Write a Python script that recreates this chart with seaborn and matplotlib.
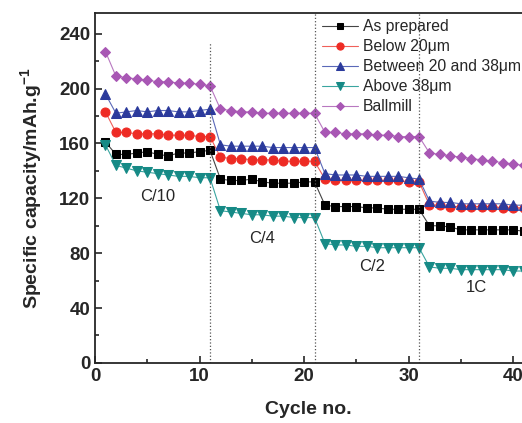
import matplotlib
matplotlib.use('Agg')
import matplotlib.pyplot as plt
from matplotlib.ticker import MultipleLocator
import seaborn as sns
import pandas as pd

sns.set_style('ticks')
plt.rcParams['font.family'] = ['Liberation Sans', 'DejaVu Sans']
plt.rcParams['mathtext.fontset'] = 'custom'
plt.rcParams['mathtext.rm'] = 'Liberation Sans'
plt.rcParams['mathtext.bf'] = 'Liberation Sans:bold'

# Номер цикла
cycles = list(range(1, 42))

# Удельная ёмкость, мА·ч/г
as_prepared = [161, 152, 152, 153, 154, 152, 151, 153, 153, 154, 155,
               134, 133, 133, 134, 132, 131, 131, 131, 132, 132,
               115, 114, 114, 114, 113, 113, 112, 112, 112, 112,
               100, 100, 99, 97, 97, 97, 97, 97, 97, 96]
below_20 = [183, 168, 168, 167, 167, 167, 166, 166, 166, 165, 165,
            150, 149, 149, 148, 148, 148, 147, 147, 147, 147,
            134, 133, 133, 133, 133, 133, 133, 133, 132, 132,
            115, 115, 114, 114, 114, 114, 114, 113, 113, 113]
between = [196, 182, 183, 184, 183, 184, 184, 183, 183, 184, 185,
           159, 158, 158, 158, 158, 157, 157, 157, 157, 157,
           138, 137, 137, 137, 136, 136, 136, 136, 135, 134,
           118, 117, 117, 116, 116, 116, 116, 116, 115, 115]
above_38 = [159, 144, 142, 140, 139, 138, 137, 136, 136, 135, 135,
            111, 110, 109, 108, 108, 107, 107, 106, 106, 106,
            87, 86, 86, 85, 85, 84, 84, 84, 84, 84,
            70, 69, 69, 68, 68, 68, 68, 68, 67, 67]
ballmill = [227, 209, 208, 207, 206, 205, 205, 204, 204, 203, 202,
            185, 184, 183, 183, 182, 182, 182, 182, 182, 182,
            168, 168, 167, 167, 167, 166, 166, 165, 165, 165,
            153, 152, 151, 150, 149, 148, 147, 146, 145, 144]

labels = ['As prepared', 'Below 20\u03bcm', 'Between 20 and 38\u03bcm',
          'Above 38\u03bcm', 'Ballmill']
rate_labels = ['C/10', 'C/4', 'C/2', '1C']
rate_pos = [(6, 121), (16, 91), (26.5, 70), (36.5, 55)]
rate_changes = [11, 21, 31]

series = [as_prepared, below_20, between, above_38, ballmill]
markers = ['s', 'o', '^', 'v', 'D']
colors = ['#000000', '#ee2b24', '#2b3a9c', '#168a86', '#a857b4']
line_colors = ['#444444', '#f0605a', '#5a68b8', '#3aa5a0', '#b878c0']
msizes = [5.5, 6.5, 7, 7, 5.5]

fig = plt.figure(figsize=(5.22, 4.23), dpi=100)
ax = fig.add_axes([0.182, 0.142, 0.818, 0.827])

for vals, lab, m, c, lc, ms in zip(series, labels, markers, colors, line_colors, msizes):
    df = pd.DataFrame({'cycle': cycles, 'cap': vals})
    sns.lineplot(data=df, x='cycle', y='cap', ax=ax, color=lc, linewidth=0.8,
                 marker=m, markersize=ms, markerfacecolor=c, markeredgecolor=c,
                 label=lab)

# вертикальные пунктирные линии смены скорости
ax.plot([11, 11], [0, 233], ls=':', color='#555555', lw=0.9)
for xc in rate_changes[1:]:
    ax.axvline(xc, ls=':', color='#555555', lw=0.9)

for t, (x, y) in zip(rate_labels, rate_pos):
    ax.text(x, y, t, ha='center', va='center', fontsize=12)

ax.set_xlim(0, 40.85)
ax.set_ylim(0, 255)
ax.xaxis.set_major_locator(MultipleLocator(10))
ax.xaxis.set_minor_locator(MultipleLocator(5))
ax.yaxis.set_major_locator(MultipleLocator(40))
ax.yaxis.set_minor_locator(MultipleLocator(20))
ax.tick_params(which='both', direction='in', width=1.2)
ax.tick_params(which='major', length=5, labelsize=13.5)
ax.tick_params(which='minor', length=3)
for lbl in ax.get_xticklabels() + ax.get_yticklabels():
    lbl.set_fontweight('bold')
ax.spines['right'].set_visible(False)
for s in ['left', 'bottom', 'top']:
    ax.spines[s].set_linewidth(1.3)

ax.set_xlabel('Cycle no.', fontsize=14, fontweight='bold', labelpad=12)
ax.set_ylabel(r'Specific capacity/mAh.g$^{\mathbf{-1}}$', fontsize=14,
              fontweight='bold', labelpad=10)

ax.legend(loc='upper left', bbox_to_anchor=(0.516, 1.0), frameon=False,
          fontsize=11.3, handlelength=2.3, handletextpad=0.32,
          labelspacing=0.32, borderaxespad=0.0, markerscale=0.8)

fig.savefig('out.png', dpi=100)
